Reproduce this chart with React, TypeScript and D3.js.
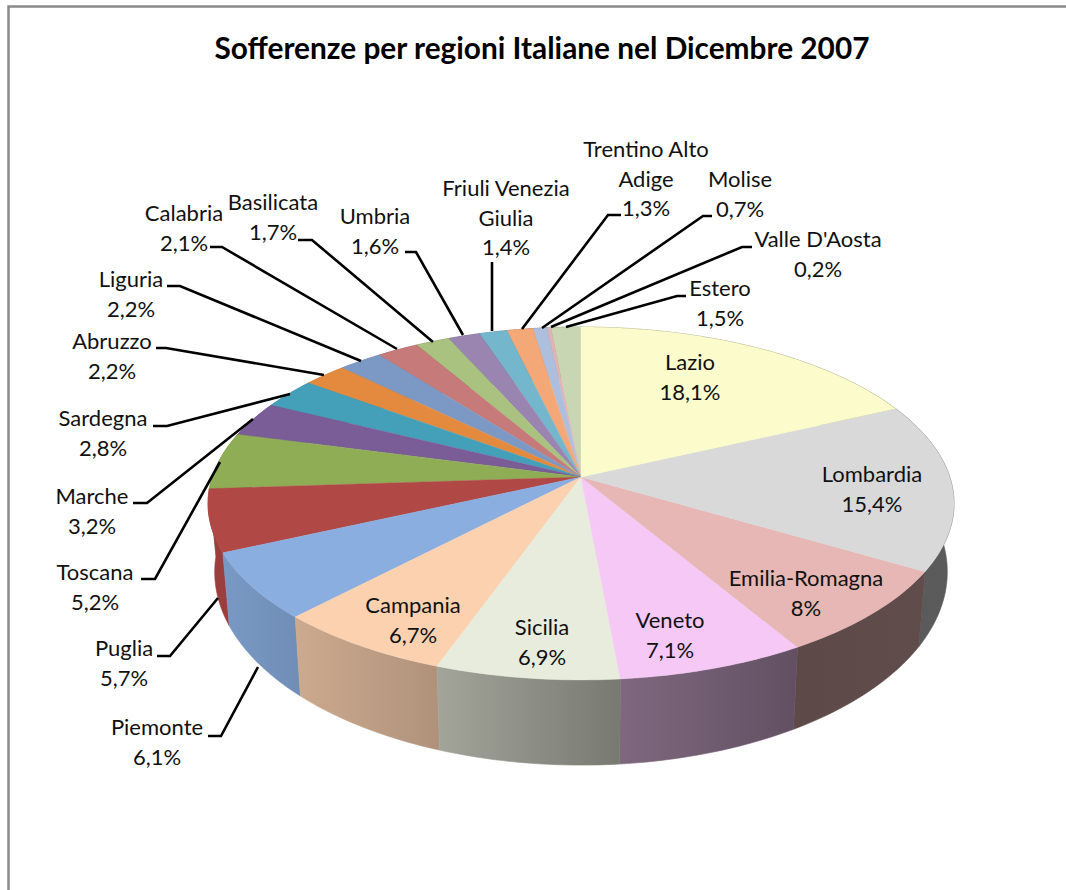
import React from "react";
import * as d3 from "d3";

const title = "Sofferenze per regioni Italiane nel Dicembre 2007";
const regions = ["Lazio","Lombardia","Emilia-Romagna","Veneto","Sicilia","Campania","Piemonte","Puglia","Toscana","Marche","Sardegna","Abruzzo","Liguria","Calabria","Basilicata","Umbria","Friuli Venezia Giulia","Trentino Alto Adige","Molise","Valle D'Aosta","Estero"];
const shares = [18.1,15.4,8,7.1,6.9,6.7,6.1,5.7,5.2,3.2,2.8,2.2,2.2,2.1,1.7,1.6,1.4,1.3,0.7,0.2,1.5];
const shareLabels = ["18,1%","15,4%","8%","7,1%","6,9%","6,7%","6,1%","5,7%","5,2%","3,2%","2,8%","2,2%","2,2%","2,1%","1,7%","1,6%","1,4%","1,3%","0,7%","0,2%","1,5%"];
const colors = ["#fbfbcb","#d9d9d9","#e6b7b5","#f6c8f6","#e8ecdc","#fbd1b0","#8aaee0","#b04846","#8fad55","#7a5c97","#44a0b9","#e38a3f","#7c99c6","#c67a79","#a9c27f","#9a84b0","#74b6cc","#f4a877","#aebfdd","#e3b3b3","#c9d6b4"];

const labelLines: string[][] = [["Lazio"],["Lombardia"],["Emilia-Romagna"],["Veneto"],["Sicilia"],["Campania"],["Piemonte"],["Puglia"],["Toscana"],["Marche"],["Sardegna"],["Abruzzo"],["Liguria"],["Calabria"],["Basilicata"],["Umbria"],["Friuli Venezia","Giulia"],["Trentino Alto","Adige"],["Molise"],["Valle D'Aosta"],["Estero"]];
// centre of the label block's first line
const labelAt: [number, number][] = [[690,362],[872,474],[806,578],[670,620],[542,627],[413,605],[157,727],[124,648],[95,572],[92,496],[103,418],[112,341],[131,279],[184,213],[273,202],[375,216],[506,188],[646,149],[740,179],[818,239],[720,288]];
const leaders: [number, number][][] = [
  [],[],[],[],[],[],
  [[208,736],[221,736],[258,667]],
  [[157,656],[170,656],[218,598]],
  [[141,579],[155,579],[220,462]],
  [[133,503],[147,503],[253,419]],
  [[153,426],[167,426],[290,394]],
  [[156,348],[166,348],[324,375]],
  [[167,286],[180,286],[361,361]],
  [[210,247],[222,247],[397,349]],
  [[298,240],[312,240],[433,342]],
  [[405,252],[416,252],[463,335]],
  [[492,262],[492,331]],
  [[621,215],[608,215],[522,329]],
  [[712,216],[703,216],[542,328]],
  [[752,247],[742,247],[551,327]],
  [[686,296],[677,296],[566,327]],
];

const W = 1066, H = 890;
const cx = 581, cy = 477;
const persp = -0.15, A = 172.5, B = 368.8;
const FONT = "Lato, 'Open Sans', sans-serif";

// perspective projection of a point on the unit disc
const project = (theta: number, r = 1): [number, number] => {
  const u = r * Math.sin(theta), v = -r * Math.cos(theta);
  const d = 1 + persp * v;
  return [cx + (B * u) / d, cy + (A * v) / d];
};
// the lower rim of the disc
const lower = ([x, y]: [number, number]): [number, number] => [cx + (x - cx) * 0.982, y + 75 + 0.095 * (y - 573)];
const shade = d3.scaleLinear().domain([220,300,438,617,795,950]).range([0.88,0.81,0.7,0.52,0.4,0.42]).clamp(true);
const dim = (c: string, k: number) => { const q = d3.rgb(c); return d3.rgb(q.r*k,q.g*k,q.b*k).formatHex(); };

// the labels add up to 100.1, so each share is drawn at its face value and Lazio covers the overlap
const pieGen = d3.pie<number>().sort(null).value(d => d).startAngle(0).endAngle(2 * Math.PI * d3.sum(shares) / 100);
const slices = pieGen(shares);
const lineGen = d3.line<[number, number]>().x(d => d[0]).y(d => d[1]);
const arcPts = (a0: number, a1: number) => d3.range(0, 1.0001, 1 / Math.max(2, Math.ceil((a1 - a0) * 60))).map(t => project(a0 + (a1 - a0) * t));
const meanY = (s: { startAngle: number; endAngle: number }) => project((s.startAngle + s.endAngle) / 2)[1];
const wallOrder = d3.range(slices.length).sort((a, b) => meanY(slices[a]) - meanY(slices[b]));
const topOrder = d3.range(slices.length).reverse();

export default function App() {
  return (
    <svg width={W} height={H} style={{ position: "absolute", left: 0, top: 0, background: "#fff" }} fontFamily={FONT}>
      <path d={`M${W},6.5H8.5V${H}`} fill="none" stroke="#8a8a8a" strokeWidth={2.5} />
      <text x={542} y={59} textAnchor="middle" fontSize={29.8} fontWeight={700} fill="#000">{title}</text>
      <defs>
        {slices.map((s, i) => {
          const pts = arcPts(s.startAngle, s.endAngle);
          const xs = pts.map(p => p[0]);
          const x0 = d3.min(xs)!, x1 = d3.max(xs)!;
          return (
            <linearGradient key={i} id={`wall${i}`} gradientUnits="userSpaceOnUse" x1={x0} x2={x1 + 0.01} y1={0} y2={0}>
              <stop offset="0" stopColor={dim(colors[i], shade(x0))} />
              <stop offset="1" stopColor={dim(colors[i], shade(x1))} />
            </linearGradient>
          );
        })}
      </defs>
      {wallOrder.map(i => {
        const s = slices[i];
        const pts = arcPts(s.startAngle, s.endAngle);
        const poly = [...pts, ...pts.map(lower).reverse()];
        return <path key={i} d={lineGen(poly)! + "Z"} fill={`url(#wall${i})`} stroke={`url(#wall${i})`} strokeWidth={0.6} />;
      })}
      {topOrder.map(i => {
        const s = slices[i];
        const poly: [number, number][] = [[cx, cy], ...arcPts(s.startAngle, s.endAngle)];
        return <path key={i} d={lineGen(poly)! + "Z"} fill={colors[i]} stroke={colors[i]} strokeWidth={0.4} />;
      })}
      {leaders.map((l, i) => l.length ? <path key={i} d={lineGen(l)!} fill="none" stroke="#000" strokeWidth={2.6} /> : null)}
      {regions.map((r, i) => {
        const [x, y] = labelAt[i];
        const rows = [...labelLines[i], shareLabels[i]];
        return (
          <text key={r} textAnchor="middle" fontSize={22} fill="#111">
            {rows.map((t, k) => <tspan key={k} x={x} y={y + 8 + k * 29.7}>{t}</tspan>)}
          </text>
        );
      })}
    </svg>
  );
}
